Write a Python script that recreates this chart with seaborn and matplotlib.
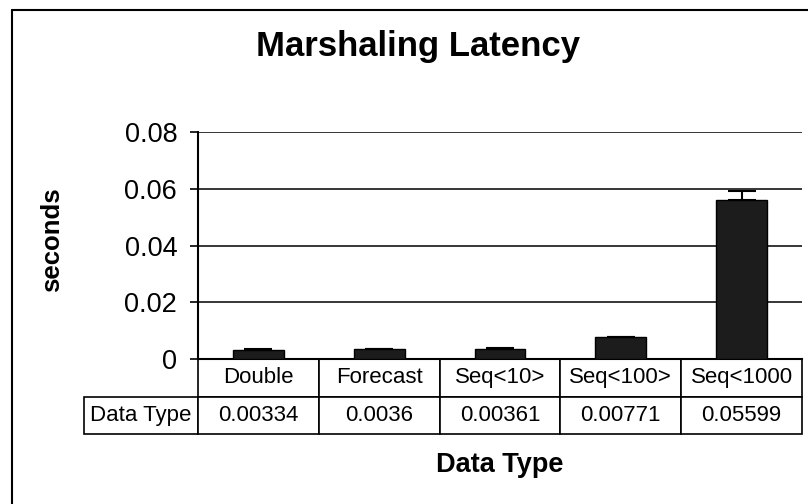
import matplotlib
matplotlib.use('Agg')
import matplotlib.pyplot as plt
from matplotlib.lines import Line2D
import seaborn as sns

# chart data
categories = ['Double', 'Forecast', 'Seq<10>', 'Seq<100>', 'Seq<1000']
latency = [0.00334, 0.0036, 0.00361, 0.00771, 0.05599]
latency_err = [0.0001, 0.0001, 0.0001, 0.0002, 0.0032]
table_labels = ['0.00334', '0.0036', '0.00361', '0.00771', '0.05599']
yticks = [0, 0.02, 0.04, 0.06, 0.08]
ytick_labels = ['0', '0.02', '0.04', '0.06', '0.08']

sns.set_theme(style='white')
plt.rcParams['font.family'] = ['Liberation Sans', 'DejaVu Sans']

W, H = 808, 504
fig = plt.figure(figsize=(W / 100, H / 100), dpi=100, facecolor='white')
# plot area in pixels: x 198..802, y 132..359
ax = fig.add_axes([198 / W, 1 - 359 / H, 604 / W, 227 / H])

sns.barplot(x=categories, y=latency, color='#1c1c1c', width=0.42,
            edgecolor='black', linewidth=1, saturation=1, ax=ax, zorder=3)
ax.errorbar(x=list(range(len(categories))), y=latency,
            yerr=[[0] * len(latency_err), latency_err],
            fmt='none', ecolor='black', elinewidth=1.5, capsize=10,
            capthick=1.5, zorder=4)

ax.set_xlim(-0.5, len(categories) - 0.5)
ax.set_ylim(0, 0.08)
ax.set_yticks(yticks)
ax.set_yticklabels(ytick_labels, fontsize=19.5)
ax.set_xticks([])
ax.set_xlabel('')
ax.set_ylabel('')
ax.tick_params(axis='y', direction='out', length=6, width=1.2, pad=9,
               left=True, colors='black')
for y in yticks[1:]:
    ax.axhline(y, color='black', lw=1.1, zorder=1)

for side in ['top', 'right']:
    ax.spines[side].set_visible(False)
ax.spines['left'].set_color('black')
ax.spines['left'].set_linewidth(1.5)
ax.spines['bottom'].set_color('black')
ax.spines['bottom'].set_linewidth(1.5)

# data table under the plot (row label cell hangs left of the axes)
rl_w = 114 / 604
tbl = ax.table(cellText=[table_labels], colLabels=categories,
               colWidths=[0.2] * 5, cellLoc='center',
               bbox=[0, -75 / 227, 1, 75 / 227])
tbl.add_cell(1, -1, width=rl_w, height=tbl[1, 0].get_height(),
             text='Data Type', loc='center')
tbl.auto_set_font_size(False)
tbl.set_fontsize(16)
for (r, c), cell in tbl.get_celld().items():
    cell.set_edgecolor('black')
    cell.set_linewidth(1.2)
    cell.set_facecolor('white')
    cell.get_text().set_color('black')

# titles
fig.text(418 / W, 1 - 56 / H, 'Marshaling Latency', ha='center',
         va='baseline', fontsize=25, fontweight='bold', color='black')
fig.text(52 / W, 1 - 240 / H, 'seconds', ha='center', va='center',
         rotation=90, fontsize=18.5, fontweight='bold', color='black')
fig.text(500 / W, 1 - 472 / H, 'Data Type', ha='center', va='baseline',
         fontsize=19.5, fontweight='bold', color='black')

# outer frame (left and top edges)
fig.add_artist(Line2D([12 / W, 12 / W], [0, 1 - 10 / H],
                      transform=fig.transFigure, color='black', lw=1.5))
fig.add_artist(Line2D([12 / W, 1], [1 - 10 / H, 1 - 10 / H],
                      transform=fig.transFigure, color='black', lw=1.5))

fig.savefig('out.png', dpi=100, facecolor='white')
